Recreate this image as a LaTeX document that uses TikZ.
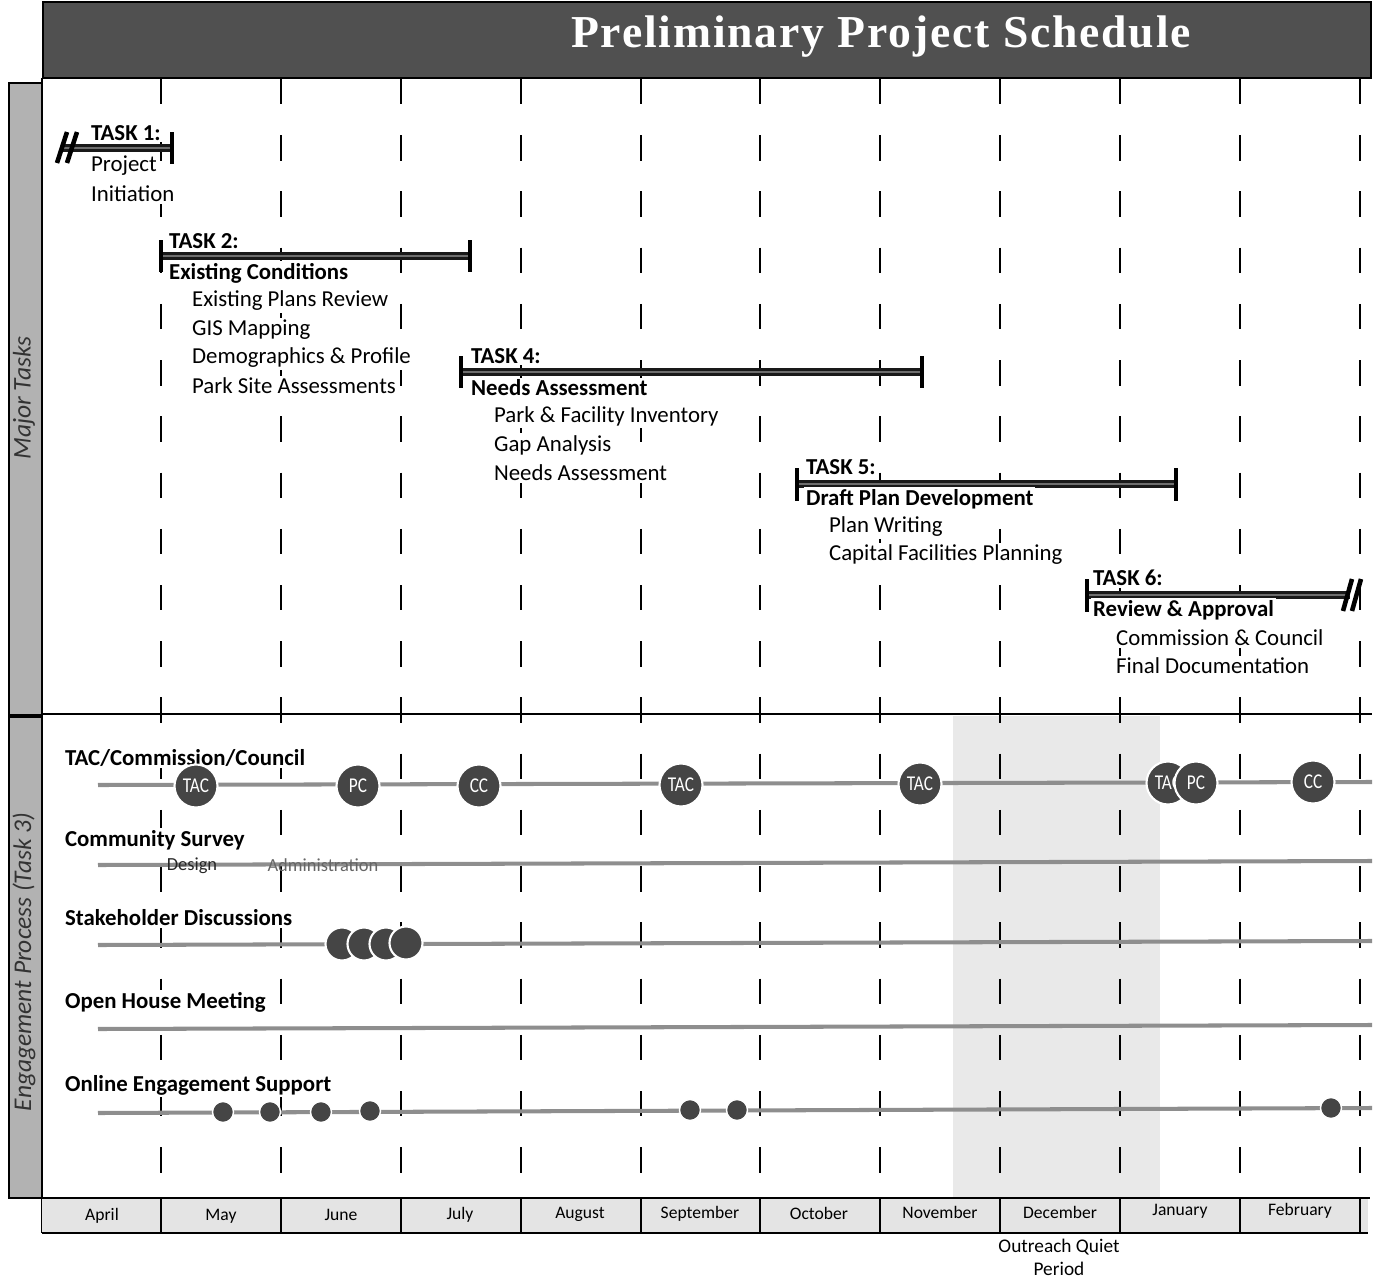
\documentclass[tikz,border=0pt]{standalone}
\usepackage{fontspec}
\setmainfont{Carlito}
\newfontfamily\titlefont[LetterSpace=4]{Liberation Serif}
\definecolor{titlegray}{HTML}{505050}
\definecolor{colgray}{HTML}{B2B2B2}
\definecolor{monthgray}{HTML}{E4E4E4}
\definecolor{quietgray}{HTML}{E9E9E9}
\definecolor{linegray}{HTML}{8E8E8E}
\definecolor{dotgray}{HTML}{454545}
\definecolor{bargray}{HTML}{6E6E6E}
\tikzset{
  gridline/.style={line width=1.1pt, dash pattern=on 14.5pt off 17.5pt},
  monthsep/.style={line width=1.4pt},
  tasktitle/.style={anchor=west, inner sep=1pt, fill=white, font=\bfseries\fontsize{13}{15}\selectfont},
  taskitem/.style={anchor=west, inner sep=1pt, fill=white, font=\fontsize{13}{15}\selectfont},
  rowlabel/.style={anchor=west, inner sep=1pt, fill=white, font=\bfseries\fontsize{13}{15}\selectfont},
  barout/.style={line width=4pt, black!90},
  barin/.style={line width=1.6pt, bargray},
  barcap/.style={rectangle, fill=black, inner sep=0, minimum width=0.09cm, minimum height=0.66cm},
  brk/.style={line width=2.6pt, black},
  track/.style={line width=2.3pt, linegray},
  meet/.style={circle, fill=dotgray, draw=white, line width=1.2pt, minimum size=0.86cm, inner sep=0, text=white, font=\fontsize{12}{12}\selectfont},
  sdisc/.style={circle, fill=dotgray, draw=white, line width=1.2pt, minimum size=0.66cm, inner sep=0},
  odot/.style={circle, fill=dotgray, draw=white, line width=0.8pt, minimum size=0.42cm, inner sep=0},
  month/.style={font=\fontsize{10}{12}\selectfont, inner sep=0},
  sidelabel/.style={rotate=90, font=\itshape\fontsize{14.5}{16}\selectfont, text=black!80, inner sep=0},
}
\newcommand{\cnd}[1]{\scalebox{0.82}[1]{#1}}
\begin{document}
\begin{tikzpicture}[x=0.02cm, y=-0.02cm]
\useasboundingbox (0,0) rectangle (1374,1281);
% title bar
\node[draw=black, line width=1pt, fill=titlegray, minimum width=26.56cm, minimum height=1.52cm, anchor=north west, inner sep=0] (titlebar) at (42,1) {};
\node[text=white, font=\titlefont\bfseries\fontsize{26}{28}\selectfont] (title) at (881,37) {Preliminary Project Schedule};
% side columns
\node[draw=black, line width=1pt, fill=colgray, minimum width=0.66cm, minimum height=12.64cm, anchor=north west, inner sep=0] (colA) at (8,82) {};
\node[draw=black, line width=1pt, fill=colgray, minimum width=0.66cm, minimum height=9.62cm, anchor=north west, inner sep=0] (colB) at (8,716) {};
\node[sidelabel] (majlab) at (24,398) {Major Tasks};
\node[sidelabel] (englab) at (24,962) {Engagement Process (Task 3)};
% quiet period shading
\fill[quietgray] (953,716) rectangle (1160,1197);
% grid dashed lines
\foreach \gx in {161,281,401,521,641,760,880,1000,1120,1240,1360}{
  \draw[gridline] (\gx,79) -- (\gx,1197);
}
% frame lines
\draw[line width=1.3pt] (42,78) -- (42,1233);
\draw[line width=1.4pt] (42,714) -- (1372,714);
% month bar
\fill[monthgray] (42,1198) rectangle (1368,1233);
\draw[line width=1.4pt] (42,1198) -- (1370,1198);
\draw[line width=1.4pt] (42,1233) -- (1368,1233);
\foreach \gx in {161,281,401,521,641,760,880,1000,1120,1240,1360}{
  \draw[monthsep] (\gx,1198) -- (\gx,1233);
}
\node[month] (mApr) at (102,1216) {April};
\node[month] (mMay) at (221,1216) {May};
\node[month] (mJun) at (341,1215) {June};
\node[month] (mJul) at (460,1215) {July};
\node[month] (mAug) at (580,1214) {August};
\node[month] (mSep) at (700,1214) {September};
\node[month] (mOct) at (819,1213) {October};
\node[month] (mNov) at (940,1212) {November};
\node[month] (mDec) at (1060,1212) {December};
\node[month] (mJan) at (1180,1211) {January};
\node[month] (mFeb) at (1300,1211) {February};
\node[align=center, font=\fontsize{11}{13.2}\selectfont, inner sep=0] (quiet) at (1059,1257) {Outreach Quiet\\Period};

% ---------------- TASK 1
\coordinate (t1a) at (62,148); \coordinate (t1b) at (172,148);
\draw[barout] (t1a) -- (t1b); \draw[barin] (t1a) -- (t1b);
\node[barcap] (t1cap) at (t1b) {};
\draw[brk] (57,163) -- (67,132); \draw[brk] (67,163) -- (77,132);
\node[tasktitle] (t1h) at (89,133) {TASK 1:};
\node[taskitem] (t1n1) at (89,166) {Project};
\node[taskitem] (t1n2) at (89,194) {Initiation};
% ---------------- TASK 2
\coordinate (t2a) at (161,256); \coordinate (t2b) at (470,256);
\draw[barout] (t2a) -- (t2b); \draw[barin] (t2a) -- (t2b);
\node[barcap] (t2capa) at (t2a) {}; \node[barcap] (t2capb) at (t2b) {};
\node[tasktitle] (t2h) at (167,241) {TASK 2:};
\node[tasktitle] (t2t) at (167,273) {Existing Conditions};
\node[taskitem] (t2i1) at (190,301) {Existing Plans Review};
\node[taskitem] (t2i2) at (190,330) {GIS Mapping};
\node[taskitem] (t2i3) at (190,358) {Demographics \& Profile};
\node[taskitem] (t2i4) at (190,386) {Park Site Assessments};
% ---------------- TASK 4
\coordinate (t4a) at (461,372); \coordinate (t4b) at (922,372);
\draw[barout] (t4a) -- (t4b); \draw[barin] (t4a) -- (t4b);
\node[barcap] (t4capa) at (t4a) {}; \node[barcap] (t4capb) at (t4b) {};
\node[tasktitle] (t4h) at (469,356) {TASK 4:};
\node[tasktitle] (t4t) at (469,388) {Needs Assessment};
\node[taskitem] (t4i1) at (492,416) {Park \& Facility Inventory};
\node[taskitem] (t4i2) at (492,445) {Gap Analysis};
\node[taskitem] (t4i3) at (492,473) {Needs Assessment};
% ---------------- TASK 5
\coordinate (t5a) at (797,484); \coordinate (t5b) at (1176,484);
\draw[barout] (t5a) -- (t5b); \draw[barin] (t5a) -- (t5b);
\node[barcap] (t5capa) at (t5a) {}; \node[barcap] (t5capb) at (t5b) {};
\node[tasktitle] (t5h) at (804,467) {TASK 5:};
\node[tasktitle] (t5t) at (804,499) {Draft Plan Development};
\node[taskitem] (t5i1) at (827,527) {Plan Writing};
\node[taskitem] (t5i2) at (827,555) {Capital Facilities Planning};
% ---------------- TASK 6
\coordinate (t6a) at (1087,595); \coordinate (t6b) at (1350,595);
\draw[barout] (t6a) -- (t6b); \draw[barin] (t6a) -- (t6b);
\node[barcap] (t6capa) at (t6a) {};
\draw[brk] (1343,611) -- (1352,579); \draw[brk] (1352,611) -- (1361,579);
\node[tasktitle] (t6h) at (1091,578) {TASK 6:};
\node[tasktitle] (t6t) at (1091,610) {Review \& Approval};
\node[taskitem] (t6i1) at (1114,638) {Commission \& Council};
\node[taskitem] (t6i2) at (1114,666) {Final Documentation};

% ---------------- ENGAGEMENT ROWS
% TAC / Commission / Council
\node[rowlabel] (r1) at (63,758) {TAC/Commission/Council};
\coordinate (r1a) at (98,785); \coordinate (r1b) at (1372,782);
\draw[track] (r1a) -- (r1b);
\node[meet] (m1) at (196,786) {\cnd{TAC}};
\node[meet] (m2) at (358,786) {\cnd{PC}};
\node[meet] (m3) at (479,786) {\cnd{CC}};
\node[meet] (m4) at (681,785) {\cnd{TAC}};
\node[meet] (m5) at (920,784) {\cnd{TAC}};
\node[meet] (m6) at (1168,783) {\cnd{TAC}};
\node[meet] (m7) at (1196,783) {\cnd{PC}};
\node[meet] (m8) at (1313,782) {\cnd{CC}};
% Community survey
\node[rowlabel] (r2) at (63,840) {Community Survey};
\coordinate (r2a) at (98,865); \coordinate (r2b) at (1372,861);
\draw[track] (r2a) -- (r2b);
\node[font=\fontsize{10.5}{12}\selectfont, text=black!85, inner sep=0] (sdes) at (192,866) {Design};
\node[font=\fontsize{10.5}{12}\selectfont, text=black!60, inner sep=0] (sadm) at (323,865) {Administration};
% Stakeholder discussions
\node[rowlabel] (r3) at (63,918) {Stakeholder Discussions};
\coordinate (r3a) at (98,945); \coordinate (r3b) at (1372,941);
\draw[track] (r3a) -- (r3b);
\node[sdisc] (s1) at (342,944) {};
\node[sdisc] (s2) at (364,944) {};
\node[sdisc] (s3) at (386,944) {};
\node[sdisc] (s4) at (406,943) {};
% Open house
\node[rowlabel] (r4) at (63,1002) {Open House Meeting};
\coordinate (r4a) at (98,1029); \coordinate (r4b) at (1372,1025);
\draw[track] (r4a) -- (r4b);
% Online engagement
\node[rowlabel] (r5) at (63,1085) {Online Engagement Support};
\coordinate (r5a) at (98,1113); \coordinate (r5b) at (1372,1108);
\draw[track] (r5a) -- (r5b);
\node[odot] (o1) at (223,1112) {};
\node[odot] (o2) at (270,1112) {};
\node[odot] (o3) at (321,1112) {};
\node[odot] (o4) at (370,1111) {};
\node[odot] (o5) at (690,1110) {};
\node[odot] (o6) at (737,1110) {};
\node[odot] (o7) at (1331,1108) {};
\end{tikzpicture}
\end{document}
